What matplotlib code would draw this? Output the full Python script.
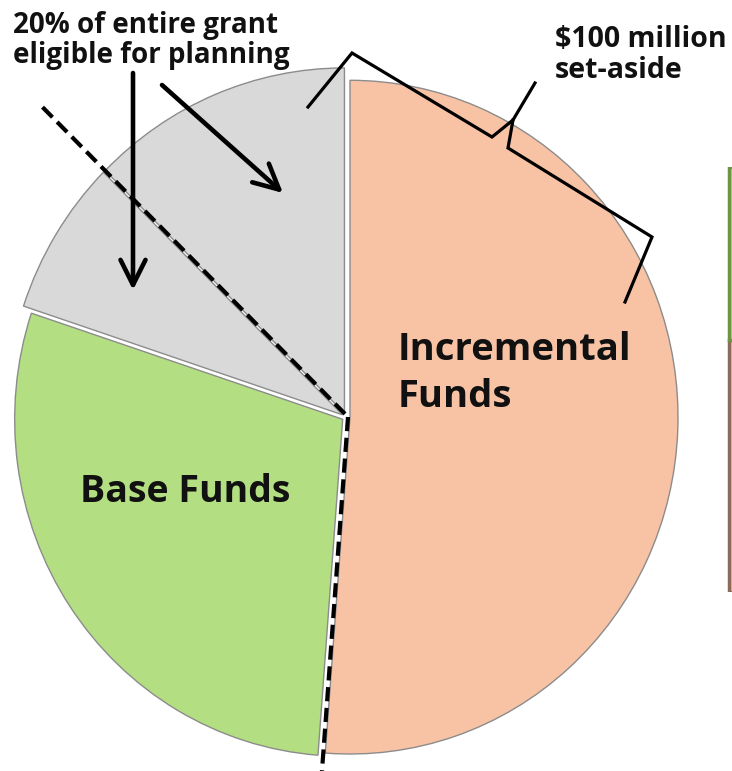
import numpy as np
import matplotlib
matplotlib.use("Agg")
import matplotlib.pyplot as plt

W, H = 732, 771  # figure size in pixels (dpi 100)
SY = 1.027       # the pie is drawn a little taller than wide

# pie shares in percent, clockwise from 12 o'clock
slice_names = ["Incremental Funds", "Base Funds", "Planning (part 1)", "Planning (part 2)"]
slice_shares = [51.2, 28.9, 7.3, 12.6]
slice_colors = ["#F8C3A5", "#B3DE81", "#D9D9D9", "#D9D9D9"]
slice_labels = ["Incremental\nFunds", "Base Funds", "", ""]

# stacked bar that is cut off at the right edge (bottom segment first)
side_shares = [59.3, 40.7]
side_faces = ["#F8C3A5", "#B3DE81"]
side_edges = ["#8B6B5C", "#6E9443"]

note_planning = "20% of entire grant\neligible for planning"
note_setaside = "$100 million\nset-aside"

plt.rcParams["font.family"] = ["Open Sans", "DejaVu Sans"]

fig = plt.figure(figsize=(W / 100, H / 100), dpi=100)
ax = fig.add_axes([0, 0, 1, 1])


def py(y):
    # pixel row (top down) -> data y
    return (H - y) / SY


def put_lines(text, x, base, step, **kw):
    # one text call per line so every baseline sits where it should
    for i, line in enumerate(text.split("\n")):
        ax.text(x, py(base + i * step), line, va="baseline", **kw)


cx, cy, R = 346, py(417), 328
gap = 4  # explode distance (pie explode is in data units)
wedges, _ = ax.pie(slice_shares, colors=slice_colors, startangle=90,
                   counterclock=False, center=(cx, cy), radius=R,
                   explode=[gap] * len(slice_shares),
                   wedgeprops=dict(edgecolor="#8C8C8C", linewidth=1.0))
for w in wedges[2:]:
    w.set_radius(R * 1.025)  # planning slices stick out a bit

ax.set_xlim(0, W)
ax.set_ylim(0, H / SY)
ax.set_aspect("auto")
ax.axis("off")

# slice labels
put_lines(slice_labels[0], 398, 360, 47, ha="left", fontsize=27.5,
          fontweight="bold", color="#111111")
put_lines(slice_labels[1], 185, 502, 0, ha="center", fontsize=27,
          fontweight="bold", color="#111111")

# dashed divider: along the planning split and the incremental/base split
shares = np.array(slice_shares) / 100.0
a_plan = np.deg2rad(90 + 360 * shares[3])
a_base = np.deg2rad(90 - 360 * shares[0])
dash = dict(color="black", lw=3, linestyle=(0, (3.4, 1.6)))
ax.plot([cx - 1, cx - 1 + 1.3 * R * np.cos(a_plan)],
        [cy + 3, cy + 3 + 1.3 * R * np.sin(a_plan)], **dash)
ax.plot([cx + 2, cx + 2 + 1.1 * R * np.cos(a_base)],
        [cy, cy + 1.1 * R * np.sin(a_base)], **dash)

# annotations
put_lines(note_planning, 13, 33, 30, ha="left", fontsize=20,
          fontweight="bold", color="#111111")
put_lines(note_setaside, 555, 47, 31, ha="left", fontsize=20.5,
          fontweight="bold", color="#111111")

arrow = dict(arrowstyle="->,head_length=0.9,head_width=0.45",
             lw=3.3, color="black", mutation_scale=20, shrinkA=0, shrinkB=0)
ax.annotate("", xy=(133, py(290)), xytext=(133, py(73)), arrowprops=arrow)
ax.annotate("", xy=(283, py(193)), xytext=(162, py(85)), arrowprops=arrow)

# brace over the incremental slice
bx1 = [308, 352, 492, 513, 535]
by1 = [107, 53, 137, 120, 83]
bx2 = [513, 508, 652, 625]
by2 = [120, 148, 237, 302]
ax.plot(bx1, [py(v) for v in by1], color="black", lw=2.3,
        solid_joinstyle="miter")
ax.plot(bx2, [py(v) for v in by2], color="black", lw=2.3,
        solid_joinstyle="miter")

# partly visible stacked bar at the right edge
bax = fig.add_axes([727 / W, (H - 592) / H, 40 / W, (592 - 167) / H])
bottom = 0
for val, fc, ec in zip(side_shares, side_faces, side_edges):
    bax.bar(0, val, bottom=bottom, width=1, align="edge",
            color=fc, edgecolor=ec, linewidth=2.5)
    bottom += val
bax.set_xlim(-0.05, 1)
bax.set_ylim(0, bottom)
bax.axis("off")

fig.savefig("out.png", dpi=100)
